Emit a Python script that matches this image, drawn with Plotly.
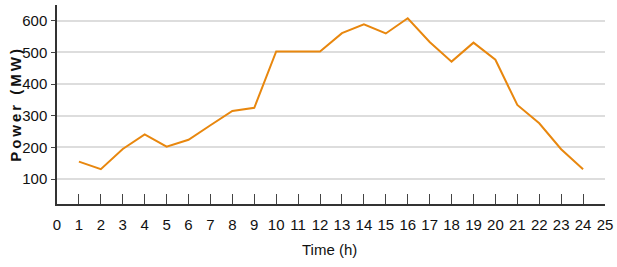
import plotly.graph_objects as go

hours = list(range(1, 25))
power = [155, 131, 195, 241, 202, 224, 270, 315, 325, 503, 503, 503,
         561, 589, 560, 608, 533, 471, 531, 477, 334, 276, 194, 131]
x_ticks = list(range(0, 26))
y_ticks = [100, 200, 300, 400, 500, 600]

y_title = "\u2009".join("Power (MW)")

fig = go.Figure()
fig.add_trace(go.Scatter(x=hours, y=power, mode="lines",
                         line=dict(color="#E8870E", width=2)))

tick_font = dict(family="Liberation Sans Narrow, Arial Narrow, Liberation Sans, sans-serif", size=15, color="#111")
fig.update_layout(
    width=617, height=267,
    margin=dict(l=57, r=12, t=5, b=63),
    paper_bgcolor="white", plot_bgcolor="white",
    showlegend=False,
    xaxis=dict(range=[0, 25], tickvals=x_ticks, ticks="inside", ticklen=10,
               tickcolor="#444", tickwidth=1, showgrid=False, zeroline=False,
               showline=True, linecolor="#333", linewidth=1.5,
               tickfont=tick_font, ticklabelstandoff=6, automargin=False),
    yaxis=dict(range=[21, 650], tickvals=y_ticks, ticks="outside", ticklen=4,
               tickcolor="#444", showgrid=True, gridcolor="#DDDDDD", gridwidth=1.5,
               zeroline=False, showline=True, linecolor="#333", linewidth=1.5,
               tickfont=tick_font, ticklabelstandoff=1, automargin=False),
    annotations=[
        dict(text="Time (h)", xref="paper", yref="paper", x=0.498, y=-0.23,
             xanchor="center", yanchor="middle", showarrow=False,
             font=dict(family="Liberation Sans, Arial, sans-serif", size=15, color="#111")),
        dict(text=y_title, xref="paper", yref="paper", x=-0.076, y=0.495,
             xanchor="center", yanchor="middle", showarrow=False, textangle=-90,
             font=dict(family="Liberation Sans, Arial, sans-serif", size=15, color="#111", weight="bold")),
    ],
)

fig.write_html("out.html", config={"displayModeBar": False},
               post_script="document.body.style.margin='0';")
